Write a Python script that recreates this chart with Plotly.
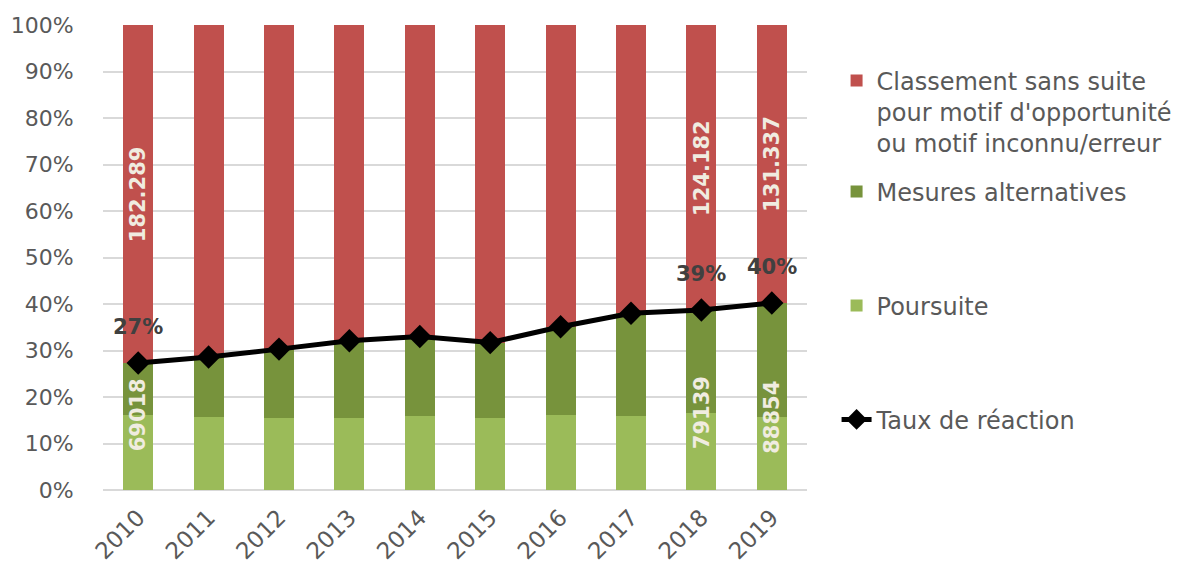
import plotly.graph_objects as go

# ---------------- data (shares in %) ----------------
years = ["2010", "2011", "2012", "2013", "2014", "2015", "2016", "2017", "2018", "2019"]
poursuite = [16.1, 15.7, 15.5, 15.4, 15.9, 15.5, 16.1, 16.0, 16.6, 15.7]
taux_reaction = [27.3, 28.6, 30.3, 32.1, 33.0, 31.7, 35.1, 38.0, 38.7, 40.2]
mesures_alternatives = [11.2, 12.9, 14.8, 16.7, 17.1, 16.2, 19.0, 22.0, 22.1, 24.5]
classement = [72.7, 71.4, 69.7, 67.9, 67.0, 68.3, 64.9, 62.0, 61.3, 59.8]

classement_labels = ["182.289", "", "", "", "", "", "", "", "124.182", "131.337"]
poursuite_labels = ["69018", "", "", "", "", "", "", "", "79139", "88854"]
taux_labels = ["27%", "", "", "", "", "", "", "", "39%", "40%"]

# ---------------- styles ----------------
FONT = "DejaVu Sans"
GRAY = "#595959"
RED = "#C0504D"
DARK_GREEN = "#77933C"
LIGHT_GREEN = "#9BBB59"
LABEL_LIGHT = "#F0ECE0"
LABEL_DARK = "#404040"

fig = go.Figure()

fig.add_trace(go.Bar(
    x=years, y=poursuite, name="Poursuite",
    marker=dict(color=LIGHT_GREEN, line=dict(width=0)),
    legend="legend3",
))
fig.add_trace(go.Bar(
    x=years, y=mesures_alternatives, name="Mesures alternatives",
    marker=dict(color=DARK_GREEN, line=dict(width=0)),
    legend="legend2",
))
fig.add_trace(go.Bar(
    x=years, y=classement,
    name="Classement sans suite<br>pour motif d'opportunité<br>ou motif inconnu/erreur",
    marker=dict(color=RED, line=dict(width=0)),
    legend="legend",
))
fig.add_trace(go.Scatter(
    x=years, y=taux_reaction, name="Taux de réaction",
    mode="lines+markers",
    line=dict(color="black", width=5),
    marker=dict(symbol="diamond", size=18, color="black"),
    legend="legend4",
))

# data labels (annotation x on a category axis = category index)
for i, (t, c, lab) in enumerate(zip(taux_reaction, classement, classement_labels)):
    if lab:
        fig.add_annotation(x=i, y=t + c / 2, text="<b>" + lab + "</b>", textangle=-90, showarrow=False,
                           font=dict(family=FONT, size=21, color=LABEL_LIGHT))
for i, (p, lab) in enumerate(zip(poursuite, poursuite_labels)):
    if lab:
        fig.add_annotation(x=i, y=p, text="<b>" + lab + "</b>", textangle=-90, showarrow=False,
                           font=dict(family=FONT, size=21, color=LABEL_LIGHT))
for i, (t, lab) in enumerate(zip(taux_reaction, taux_labels)):
    if lab:
        fig.add_annotation(x=i, y=t, text="<b>" + lab + "</b>", showarrow=False, yshift=36,
                           font=dict(family=FONT, size=21, color=LABEL_DARK))

legend_common = dict(
    xanchor="left", yanchor="middle", x=1.042,
    font=dict(family=FONT, size=24, color=GRAY),
    bgcolor="rgba(0,0,0,0)", valign="top",
)

fig.update_layout(
    width=1187, height=569,
    margin=dict(l=103, r=380, t=25, b=79, autoexpand=False),
    paper_bgcolor="white", plot_bgcolor="white",
    barmode="stack", bargap=0.574,
    showlegend=True,
    font=dict(family=FONT, color=GRAY),
    legend=dict(y=0.813, **legend_common),
    legend2=dict(y=0.641, **legend_common),
    legend3=dict(y=0.396, **legend_common),
    legend4=dict(y=0.151, **legend_common),
    xaxis=dict(
        type="category", categoryorder="array", categoryarray=years,
        range=[-0.5, len(years) - 0.5], automargin=False,
        tickangle=-45,
        tickfont=dict(family=FONT, size=23, color=GRAY),
        showgrid=False, showline=False, ticks="outside", ticklen=4,
        tickcolor="rgba(0,0,0,0)",
    ),
    yaxis=dict(
        range=[0, 100], tickmode="linear", tick0=0, dtick=10, ticksuffix="%",
        automargin=False,
        tickfont=dict(family=FONT, size=22, color=GRAY),
        showgrid=True, gridcolor="#D9D9D9", gridwidth=1.5,
        zeroline=True, zerolinecolor="#D9D9D9", zerolinewidth=1.5,
        ticks="outside", ticklen=24, tickcolor="rgba(0,0,0,0)", showline=False,
    ),
)

fig.write_html("out.html")
